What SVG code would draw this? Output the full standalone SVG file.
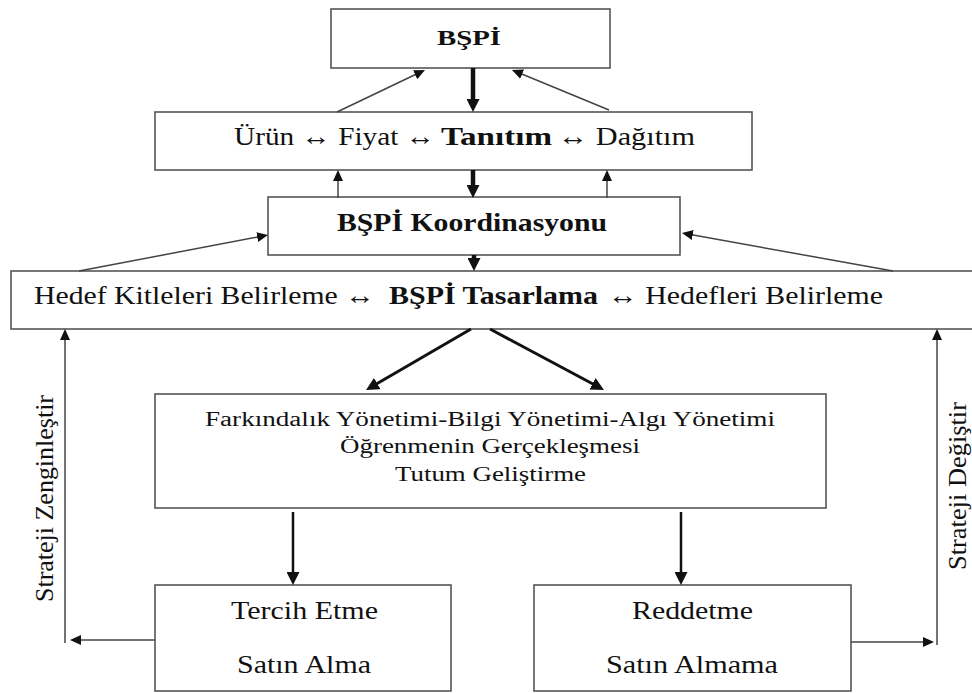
<svg xmlns="http://www.w3.org/2000/svg" width="972" height="693" viewBox="0 0 972 693">
<style>
.box{fill:#fff;stroke:#555;stroke-width:1.6}
.t{font-family:"Liberation Serif","Times New Roman",serif;fill:#111}
.b{font-weight:bold}
.thick{stroke:#111;fill:none}
.thin{stroke:#444;stroke-width:1.5;fill:none}
</style>
<defs>
<marker id="ah" markerUnits="userSpaceOnUse" markerWidth="13" markerHeight="13" refX="1" refY="6.5" orient="auto"><path d="M0,0 L13,6.5 L0,13 z" fill="#111"/></marker>
<marker id="at" markerUnits="userSpaceOnUse" markerWidth="11" markerHeight="10" refX="1" refY="5" orient="auto"><path d="M0,0 L11,5 L0,10 z" fill="#111"/></marker>
</defs>
<rect width="972" height="693" fill="#fff"/>
<g id="bspi">
<rect class="box" x="331" y="9" width="279" height="59"/>
<text class="t b" x="437" y="45" font-size="22" textLength="64" lengthAdjust="spacingAndGlyphs">BŞPİ</text>
</g>
<g id="karma">
<rect class="box" x="155" y="112" width="597" height="58"/>
<text class="t" x="234" y="145" font-size="26" textLength="201" lengthAdjust="spacingAndGlyphs">Ürün ↔ Fiyat ↔</text>
<text class="t b" x="441" y="145" font-size="26" textLength="111" lengthAdjust="spacingAndGlyphs">Tanıtım</text>
<text class="t" x="558" y="145" font-size="26" textLength="137" lengthAdjust="spacingAndGlyphs">↔ Dağıtım</text>
</g>
<g id="koordinasyon">
<rect class="box" x="268" y="197" width="412" height="58"/>
<text class="t b" x="337" y="231" font-size="26" textLength="270" lengthAdjust="spacingAndGlyphs">BŞPİ Koordinasyonu</text>
</g>
<g id="tasarlama">
<rect class="box" x="11" y="271" width="975" height="58"/>
<text class="t" x="34" y="304" font-size="26" textLength="341" lengthAdjust="spacingAndGlyphs">Hedef Kitleleri Belirleme ↔</text>
<text class="t b" x="389" y="304" font-size="26" textLength="209" lengthAdjust="spacingAndGlyphs">BŞPİ Tasarlama</text>
<text class="t" x="608" y="304" font-size="26" textLength="275" lengthAdjust="spacingAndGlyphs">↔ Hedefleri Belirleme</text>
</g>
<g id="yonetim">
<rect class="box" x="155" y="394" width="671" height="114"/>
<text class="t" x="205" y="426" font-size="20" textLength="570" lengthAdjust="spacingAndGlyphs">Farkındalık Yönetimi-Bilgi Yönetimi-Algı Yönetimi</text>
<text class="t" x="340" y="453" font-size="20" textLength="300" lengthAdjust="spacingAndGlyphs">Öğrenmenin Gerçekleşmesi</text>
<text class="t" x="395" y="481" font-size="20" textLength="191" lengthAdjust="spacingAndGlyphs">Tutum Geliştirme</text>
</g>
<g id="tercih">
<rect class="box" x="155" y="585" width="296" height="106"/>
<text class="t" x="231" y="619" font-size="25" textLength="147" lengthAdjust="spacingAndGlyphs">Tercih Etme</text>
<text class="t" x="237" y="673" font-size="25" textLength="134" lengthAdjust="spacingAndGlyphs">Satın Alma</text>
</g>
<g id="reddetme">
<rect class="box" x="534" y="585" width="317" height="106"/>
<text class="t" x="632" y="619" font-size="25" textLength="121" lengthAdjust="spacingAndGlyphs">Reddetme</text>
<text class="t" x="606" y="673" font-size="25" textLength="172" lengthAdjust="spacingAndGlyphs">Satın Almama</text>
</g>
<g id="labels">
<text class="t" transform="translate(53,602) rotate(-90)" font-size="26" textLength="207" lengthAdjust="spacingAndGlyphs">Strateji Zenginleştir</text>
<text class="t" transform="translate(966,570) rotate(-90)" font-size="26" textLength="168" lengthAdjust="spacingAndGlyphs">Strateji Değiştir</text>
</g>
<g id="connectors">
<path class="thick" stroke-width="4.5" d="M473,68 V100" marker-end="url(#ah)"/>
<path class="thick" stroke-width="4.5" d="M473,170 V186" marker-end="url(#ah)"/>
<path class="thick" stroke-width="4.5" d="M474,255 V259" marker-end="url(#ah)"/>
<path class="thick" stroke-width="3" d="M471,329 L376.4,384" marker-end="url(#ah)"/>
<path class="thick" stroke-width="3" d="M490,329 L593.4,384.3" marker-end="url(#ah)"/>
<path class="thick" stroke-width="2.5" d="M293,512 V573" marker-end="url(#ah)"/>
<path class="thick" stroke-width="2.5" d="M681,512 V573" marker-end="url(#ah)"/>
<path class="thin" d="M337,112 L416,74.3" marker-end="url(#at)"/>
<path class="thin" d="M609,110 L521.2,73.8" marker-end="url(#at)"/>
<path class="thin" d="M338,198 V180" marker-end="url(#at)"/>
<path class="thin" d="M607,198 V180" marker-end="url(#at)"/>
<path class="thin" d="M79,271 L258.2,236.9" marker-end="url(#at)"/>
<path class="thin" d="M893,271 L691.8,234.8" marker-end="url(#at)"/>
<path class="thin" d="M155,640 H80" marker-end="url(#at)"/>
<path class="thin" d="M65,643 V339" marker-end="url(#at)"/>
<path class="thin" d="M851,642 H924" marker-end="url(#at)"/>
<path class="thin" d="M937,645 V339" marker-end="url(#at)"/>
</g>
</svg>
